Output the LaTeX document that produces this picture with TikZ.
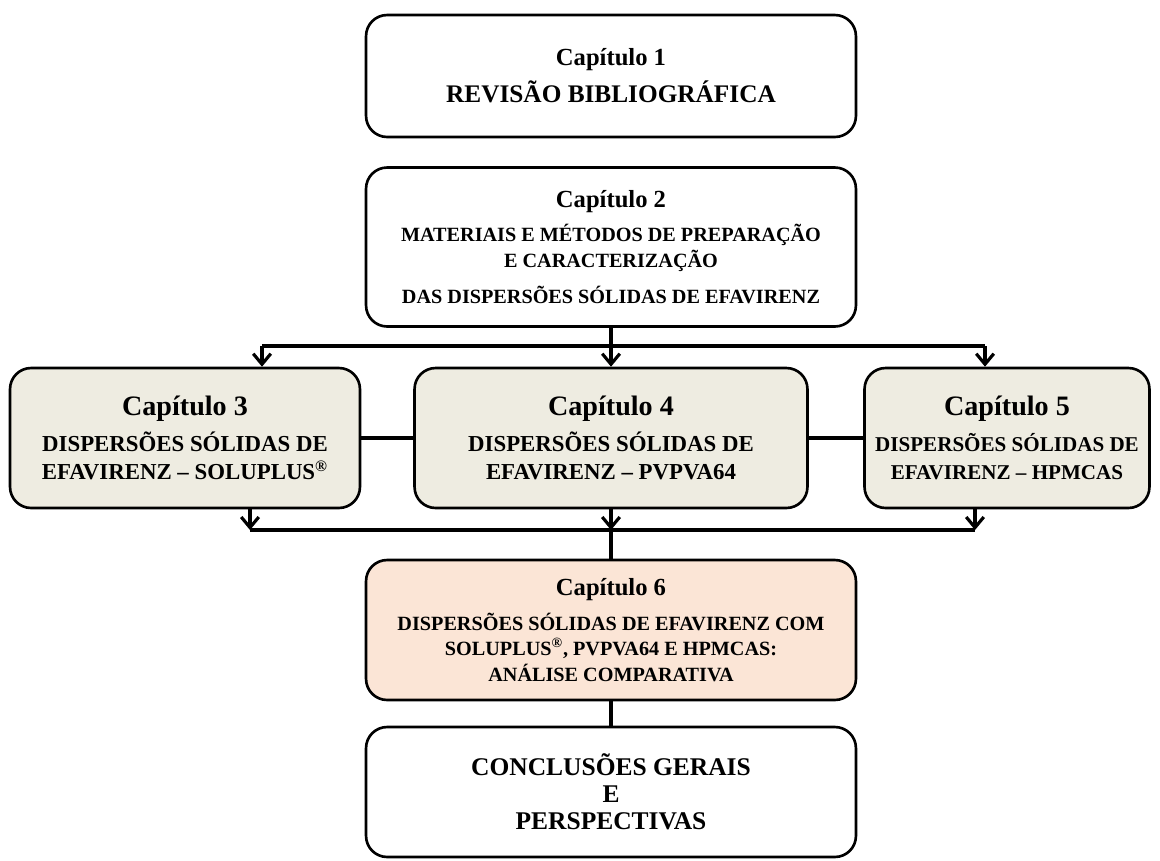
\documentclass[tikz,border=0pt]{standalone}
\usepackage{fontspec}
\setmainfont{Liberation Serif}
\usetikzlibrary{arrows.meta}
\definecolor{sidefill}{HTML}{EEECE1}
\definecolor{peachfill}{HTML}{FBE5D6}
\newcommand{\captitle}[2][14]{{\fontsize{#1}{#1}\selectfont #2}}
\tikzset{
  chapter/.style={draw, line width=1.5pt, rounded corners=12pt, align=center,
    inner sep=0pt, font=\bfseries\fontsize{11.5}{14.5}\selectfont},
  side/.style={chapter, fill=sidefill, minimum height=2.8cm,
    font=\bfseries\fontsize{13}{16}\selectfont},
  link/.style={line width=2.3pt},
  arr/.style={link, -{Straight Barb[length=6pt,width=10pt,line width=1.8pt]}}
}
\begin{document}
\begin{tikzpicture}[x=0.02cm,y=-0.02cm]
  \useasboundingbox (0,0) rectangle (1160,860);
  \draw
    (611,76) node[chapter, minimum width=9.8cm, minimum height=2.44cm,
      font=\bfseries\fontsize{14.4}{17}\selectfont] (c1)
      {\captitle{Capítulo 1}\\[4pt] REVISÃO BIBLIOGRÁFICA}
    (611,247) node[chapter, minimum width=9.8cm, minimum height=3.18cm] (c2)
      {\captitle{Capítulo 2}\\[5pt] MATERIAIS E MÉTODOS DE PREPARAÇÃO\\
       E CARACTERIZAÇÃO\\[6pt] DAS DISPERSÕES SÓLIDAS DE EFAVIRENZ}
    (185,438) node[side, minimum width=7.0cm] (c3)
      {\captitle[16]{Capítulo 3}\\[4pt] DISPERSÕES SÓLIDAS DE\\
       EFAVIRENZ -- SOLUPLUS\textsuperscript{\textregistered}}
    (611,438) node[side, minimum width=7.86cm] (c4)
      {\captitle[16]{Capítulo 4}\\[4pt] DISPERSÕES SÓLIDAS DE\\
       EFAVIRENZ -- PVPVA64}
    (1007,438) node[side, minimum width=5.7cm,
      font=\bfseries\fontsize{12}{16}\selectfont] (c5)
      {\captitle[16]{Capítulo 5}\\[4pt] DISPERSÕES SÓLIDAS DE\\
       EFAVIRENZ -- HPMCAS}
    (611,630) node[chapter, fill=peachfill, minimum width=9.8cm, minimum height=2.8cm] (c6)
      {\captitle{Capítulo 6}\\[5pt] DISPERSÕES SÓLIDAS DE EFAVIRENZ COM\\
       SOLUPLUS\textsuperscript{\textregistered}, PVPVA64 E HPMCAS:\\
       ANÁLISE COMPARATIVA}
    (611,792) node[chapter, minimum width=9.8cm, minimum height=2.6cm,
      font=\bfseries\fontsize{14.5}{15.5}\selectfont] (c7)
      {CONCLUSÕES GERAIS\\ E\\ PERSPECTIVAS};
  \coordinate (t3) at (262,346);
  \coordinate (t4) at (611,346);
  \coordinate (t5) at (985,346);
  \coordinate (b3) at (250,530);
  \coordinate (b4) at (611,530);
  \coordinate (b5) at (975,530);
  \begin{scope}[link]
    \draw (c2) to (t4);
    \draw (t3) to (t5);
    \draw[arr] (t3) to (t3 |- c3.north);
    \draw[arr] (t4) to (c4);
    \draw[arr] (t5) to (t5 |- c5.north);
    \draw (c3) to (c4);
    \draw (c4) to (c5);
    \draw[arr] (b3 |- c3.south) to (b3);
    \draw[arr] (c4) to (b4);
    \draw[arr] (b5 |- c5.south) to (b5);
    \draw (b3) to (b5);
    \draw (b4) to (c6);
    \draw (c6) to (c7);
  \end{scope}
\end{tikzpicture}
\end{document}
